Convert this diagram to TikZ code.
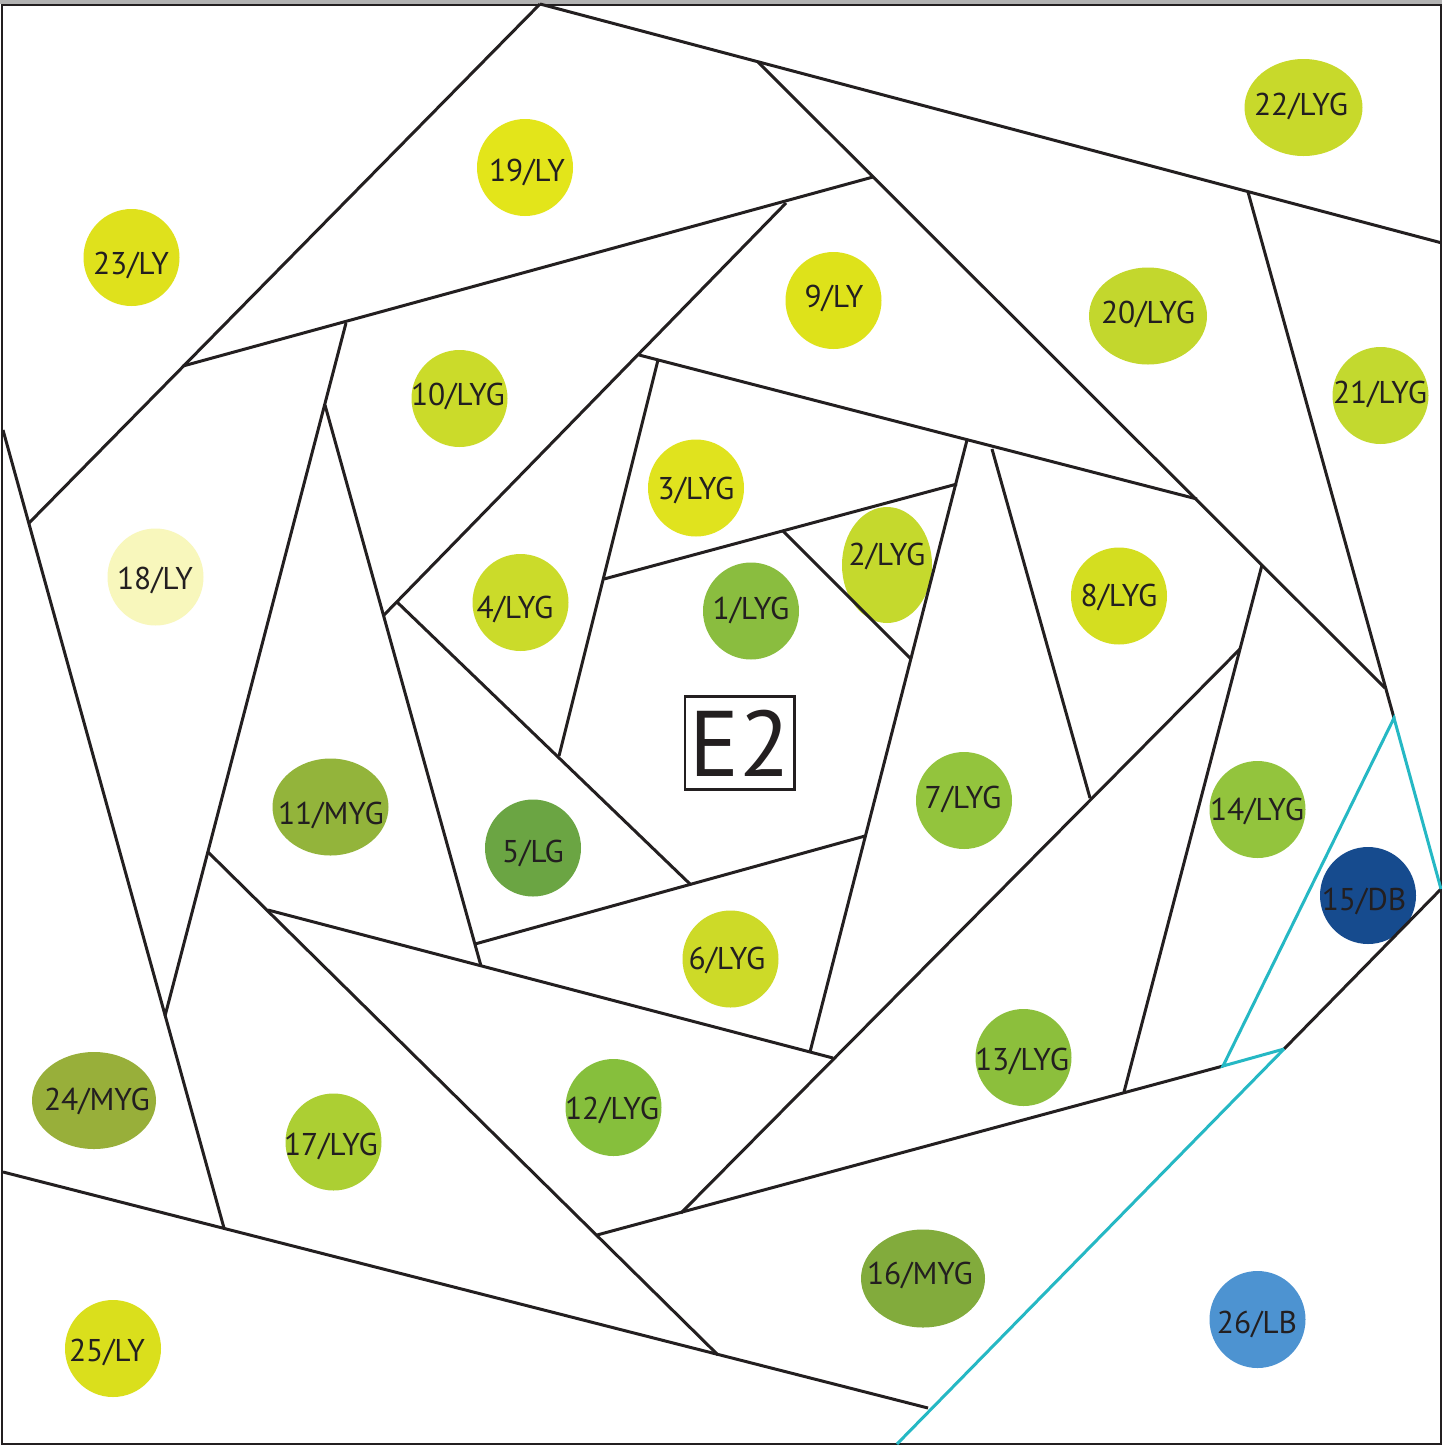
\documentclass[tikz,border=0pt]{standalone}
\usepackage{fontspec}
\setmainfont{PT Sans}
\definecolor{inkline}{HTML}{231F20}
\definecolor{cyanline}{HTML}{25B8C4}
\tikzset{
	wall/.style={draw=inkline, line width=0.85pt},
	cyanwall/.style={draw=cyanline, line width=0.85pt},
	spotlabel/.style={text=inkline, inner sep=0pt, yshift=-0.025cm, font=\fontsize{8.95}{10}\selectfont},
}
\begin{document}
\begin{tikzpicture}[x=0.01cm, y=-0.01cm]
\useasboundingbox (0,0) rectangle (1442,1445);
\fill[white] (0,0) rectangle (1442,1445);
\fill[gray!60] (0,0) rectangle (1442,3.5);

\foreach \cx/\cy/\rx/\ry/\col in {
	751/611/48/48.5/8ABD3F, 887/565/45/58/C5D92D, 696/488/48/48.5/E0E31E, 520.5/602.5/48/48.5/CBDB2A,
	533/848/48/48.5/6BA543, 730.5/959/48/48.5/CDDA28, 964/800.5/48/48.5/93C43D, 1119/596/48/48.5/D4DE20,
	833.5/300.5/48/48.5/DEE21A, 459.5/398.5/48/48.5/CBDB2A, 330.5/807/58/48.5/93B43B, 613.5/1107.5/48/48.5/86BF3C,
	1023.5/1057.5/48/48.5/8CBF3C, 1257.5/809.5/48/48.5/93C43D, 1368/895.5/48/48.5/164B8E, 923/1278.5/62/49/82AB3C,
	333.5/1142/48/48.5/ACCF33, 155.5/577/48/48.5/F8F7BC, 525/167.5/48/48.5/E3E51A, 1148/316/59/48.5/C3D72D,
	1380.5/395.5/48/48.5/C3D92F, 1303.5/107.5/59/48.5/C8D92B, 131.5/257.5/48/48.5/DFE11C, 94/1100.5/62/48.5/98AF3A,
	113/1348.5/48/48.5/DADF1C, 1257.5/1319.5/48/48.5/4D93D1}
{
	\definecolor{spotcol}{HTML}{\col}
	\fill[spotcol] (\cx,\cy) ellipse [x radius=\rx, y radius=\ry];
}

\draw[wall] (2,5) rectangle (1441,1444);
\draw[wall] (540,4) -- (1442,243);
\draw[wall] (540,4) -- (29,523);
\draw[wall] (758,62) -- (1385,688);
\draw[wall] (183,366) -- (873,177);
\draw[wall] (1248,192) -- (1394,718);
\draw[wall] (3,430) -- (224,1228);
\draw[wall] (346,323) -- (165,1016);
\draw[wall] (786,203) -- (384,615);
\draw[wall] (325,405) -- (481,966);
\draw[wall] (639,355) -- (1197,499);
\draw[wall] (658,360) -- (559,756);
\draw[wall] (604,579) -- (957,484);
\draw[wall] (783,531) -- (911,659);
\draw[wall] (967,440) -- (810,1052);
\draw[wall] (992,449) -- (1090,798);
\draw[wall] (397,602) -- (690,884);
\draw[wall] (475,944) -- (865,836);
\draw[wall] (268,910) -- (833,1058);
\draw[wall] (208,852) -- (718,1355);
\draw[wall] (1262,565) -- (1124,1092);
\draw[wall] (1240,649) -- (681,1213);
\draw[wall] (597,1235) -- (1223,1066);
\draw[wall] (1441,889) -- (1284,1049);
\draw[wall] (3,1172) -- (928,1408);

\draw[cyanwall] (1284,1049) -- (1223,1066) -- (1394,718) -- (1441,889);
\draw[cyanwall] (1284,1049) -- (897,1444);

\foreach \tx/\ty/\num/\code in {
	751/608/1/LYG, 887/554/2/LYG, 696/488/3/LYG, 515/607/4/LYG,
	533/851/5/LG, 727/958/6/LYG, 963/797/7/LYG, 1119/595/8/LYG,
	834/296/9/LY, 458/394/10/LYG, 331/813/11/MYG, 612/1108/12/LYG,
	1022/1059/13/LYG, 1257/809/14/LYG, 1364/899/15/DB, 920/1273/16/MYG,
	331/1144/17/LYG, 155/578/18/LY, 527/170/19/LY, 1148/312/20/LYG,
	1380/392/21/LYG, 1301/104/22/LYG, 131/263/23/LY, 97/1099/24/MYG,
	107/1350/25/LY, 1257/1322/26/LB}
{
	\node[spotlabel] (spot\num) at (\tx,\ty) {\num/\code};
}

\node[wall, inner sep=0pt, minimum width=31pt, minimum height=26.7pt, font=\fontsize{26.5}{30}\selectfont, text=inkline] (e2box) at (739.5,743) {E2};
\end{tikzpicture}
\end{document}
